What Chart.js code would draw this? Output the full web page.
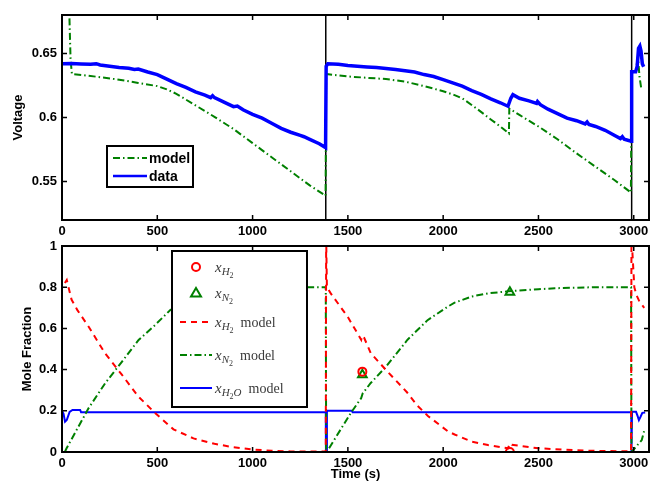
<!DOCTYPE html>
<html>
<head>
<meta charset="utf-8">
<title>Voltage and mole fraction</title>
<script src="https://cdn.jsdelivr.net/npm/chart.js@4.4.0/dist/chart.umd.min.js"></script>
<style>
  body { margin: 0; background: #fff; overflow: hidden; }
  #wrap { position: relative; width: 651px; height: 484px; }
  #chart_volt { position: absolute; left: 0; top: 0; }
  #chart_frac { position: absolute; left: 0; top: 240px; }
</style>
</head>
<body>
<div id="wrap">
  <canvas id="chart_volt" width="651" height="240"></canvas>
  <canvas id="chart_frac" width="651" height="244"></canvas>
</div>
<script>
// tick values
var xTicks = [0, 500, 1000, 1500, 2000, 2500, 3000];
var voltTicks = [0.55, 0.6, 0.65];
var fracTicks = [0, 0.2, 0.4, 0.6, 0.8, 1];

// top panel: measured cell voltage
var tData = [0, 50, 100, 150, 180, 200, 250, 300, 350, 380, 400, 450, 500, 550, 600, 650, 700, 750, 780, 790, 800,
  850, 900, 920, 950, 1000, 1050, 1100, 1150, 1200, 1250, 1270, 1300, 1350, 1383,
  1386, 1395, 1450, 1500, 1550, 1600, 1650, 1700, 1750, 1800, 1850, 1900, 1950, 2000, 2050, 2100, 2150, 2200,
  2250, 2300, 2340, 2355, 2366, 2400, 2450, 2490, 2495, 2510, 2550, 2600, 2650, 2700, 2745, 2755, 2765, 2800,
  2850, 2900, 2930, 2940, 2950, 2986,
  2989, 3010, 3018, 3025, 3032, 3038, 3045, 3052];
var vData = [0.6420, 0.6422, 0.6418, 0.6415, 0.6420, 0.6410, 0.6400, 0.6390, 0.6385, 0.6375, 0.6378, 0.6355, 0.6335,
  0.6300, 0.6265, 0.6235, 0.6200, 0.6175, 0.6155, 0.6170, 0.6155,
  0.6120, 0.6085, 0.6090, 0.6060, 0.6025, 0.5995, 0.5955, 0.5915, 0.5885, 0.5860, 0.5850, 0.5830, 0.5795, 0.5765,
  0.6400, 0.6420, 0.6415, 0.6405, 0.6400, 0.6395, 0.6390, 0.6383, 0.6375, 0.6365, 0.6355, 0.6335, 0.6320, 0.6295,
  0.6270, 0.6245, 0.6210, 0.6180, 0.6145, 0.6115, 0.6088, 0.6150, 0.6178, 0.6150, 0.6130, 0.6110, 0.6125, 0.6100,
  0.6065, 0.6030, 0.5995, 0.5975, 0.5950, 0.5965, 0.5945, 0.5930,
  0.5900, 0.5860, 0.5835, 0.5850, 0.5830, 0.5815,
  0.6357, 0.6357, 0.6400, 0.6540, 0.6557, 0.6520, 0.6420, 0.6396];

// top panel: model voltage
var tModel = [35, 45, 52, 200, 300, 400, 500, 550, 600, 650, 700, 750, 800, 900, 1000, 1100, 1200, 1300, 1383,
  1386, 1500, 1600, 1700, 1800, 1900, 2000, 2060, 2100, 2180, 2250, 2300, 2345,
  2347, 2400, 2500, 2600, 2700, 2800, 2900, 2985,
  2989, 3010, 3022, 3030, 3040];
var vModel = [0.700, 0.645, 0.634, 0.6315, 0.6295, 0.627, 0.6245, 0.622, 0.6185, 0.614, 0.6095, 0.605, 0.6005,
  0.591, 0.580, 0.569, 0.558, 0.547, 0.539,
  0.634, 0.632, 0.631, 0.630, 0.628, 0.6245, 0.6205, 0.6175, 0.615, 0.6065, 0.5985, 0.593, 0.5875,
  0.607, 0.602, 0.593, 0.583, 0.572, 0.5615, 0.551, 0.5415,
  0.6357, 0.6357, 0.648, 0.632, 0.622];

// times when the feed was switched (black lines)
var tSwitch = [1384, 2989];

// bottom panel: model mole fractions
var tH2m = [15, 25, 50, 80, 140, 225, 315, 400, 490, 585, 690, 800, 900, 1000, 1100, 1200, 1384,
  1386, 1390, 1410, 1500, 1570, 1575, 1585, 1620, 1700, 1810, 1865, 1920, 2025, 2060, 2150, 2235, 2340,
  2350, 2360, 2500, 2760, 2986,
  2988, 3003, 3015, 3030, 3055];
var xH2m = [0.82, 0.835, 0.74, 0.69, 0.608, 0.48, 0.374, 0.27, 0.188, 0.11, 0.066, 0.04, 0.023, 0.012, 0.006, 0.003, 0.002,
  1.05, 0.80, 0.77, 0.655, 0.545, 0.565, 0.555, 0.48, 0.398, 0.29, 0.225, 0.175, 0.10, 0.085, 0.05, 0.034, 0.018,
  0.042, 0.035, 0.018, 0.006, 0.003,
  1.05, 0.80, 0.76, 0.73, 0.70];

var tN2m = [15, 24, 139, 226, 314, 402, 489, 568, 650, 750, 850, 1000, 1200, 1384,
  1386, 1389, 1516, 1570, 1578, 1620, 1700, 1813, 1865, 1918, 2023, 2060, 2150, 2234, 2340, 2500, 2586, 2800, 2986,
  2988, 3042, 3056];
var xN2m = [0, 0.018, 0.212, 0.333, 0.438, 0.544, 0.617, 0.689, 0.73, 0.77, 0.78, 0.79, 0.80, 0.80,
  0, 0, 0.19, 0.262, 0.285, 0.335, 0.414, 0.545, 0.592, 0.64, 0.705, 0.725, 0.755, 0.77, 0.78, 0.79, 0.795, 0.80, 0.80,
  0, 0.058, 0.107];

var tH2Om = [0, 8, 16, 25, 40, 55, 95, 100, 1384, 1385, 1388, 1390, 1520, 1525, 2987, 2988, 2991,
  3012, 3020, 3027, 3035, 3045, 3060];
var xH2Om = [0.2, 0.185, 0.147, 0.155, 0.195, 0.204, 0.204, 0.193, 0.193, 0, 0, 0.2, 0.2, 0.193, 0.193, 0, 0.195,
  0.195, 0.175, 0.155, 0.17, 0.19, 0.192];

// bottom panel: measured mole fractions
var tH2pts = [1576, 2350];
var xH2pts = [0.39, 0.0];
var tN2pts = [1576, 2350];
var xN2pts = [0.375, 0.775];

var RED = '#ff0000', GREEN = '#008000', BLUE = '#0000ff';
var DASHDOT = [7, 3, 1.5, 3];
var DASH = [6, 5];

function pts(xs, ys) {
  return xs.map(function(x, i) { return {x: x, y: ys[i]}; });
}

Chart.defaults.font.family = '"Liberation Sans", Arial, sans-serif';
Chart.defaults.font.size = 13;
Chart.defaults.font.weight = 'bold';
Chart.defaults.color = '#000';

// MATLAB style box with inward ticks on all four sides
var tickMarks = {
  id: 'tickMarks',
  afterDatasetsDraw: function(chart) {
    var ctx = chart.ctx, a = chart.chartArea;
    var xs = chart.scales.x, ys = chart.scales.y;
    ctx.save();
    ctx.strokeStyle = '#000';
    ctx.lineWidth = 1.5;
    ctx.beginPath();
    xs.ticks.forEach(function(t) {
      var px = xs.getPixelForValue(t.value);
      ctx.moveTo(px, a.bottom); ctx.lineTo(px, a.bottom - 5);
      ctx.moveTo(px, a.top); ctx.lineTo(px, a.top + 5);
    });
    ys.ticks.forEach(function(t) {
      var py = ys.getPixelForValue(t.value);
      ctx.moveTo(a.left, py); ctx.lineTo(a.left + 5, py);
      ctx.moveTo(a.right, py); ctx.lineTo(a.right - 5, py);
    });
    ctx.stroke();
    ctx.lineWidth = 2;
    ctx.strokeRect(a.left, a.top, a.right - a.left, a.bottom - a.top);
    ctx.restore();
  }
};

var FONTS = {
  i: ['italic 15px "Liberation Serif", serif', 0],
  s: ['italic 11px "Liberation Serif", serif', 3],
  n: ['8px "Liberation Serif", serif', 6],
  r: ['14px "Liberation Serif", serif', 0],
  b: ['bold 14px "Liberation Sans", Arial, sans-serif', 0]
};

function drawMarker(ctx, style, color, x, y) {
  ctx.save();
  ctx.strokeStyle = color;
  ctx.lineWidth = 2;
  ctx.setLineDash([]);
  ctx.beginPath();
  if (style === 'circle') {
    ctx.arc(x, y, 4, 0, Math.PI * 2);
  } else {
    ctx.moveTo(x, y - 5); ctx.lineTo(x + 5, y + 3.5); ctx.lineTo(x - 5, y + 3.5); ctx.closePath();
  }
  ctx.stroke();
  ctx.restore();
}

// legend drawn inside the axes, like the original
var boxLegend = {
  id: 'boxLegend',
  afterDraw: function(chart, args, opts) {
    if (!opts || !opts.rows) return;
    var ctx = chart.ctx;
    ctx.save();
    ctx.fillStyle = '#fff';
    ctx.fillRect(opts.x, opts.y, opts.w, opts.h);
    ctx.lineWidth = 2;
    ctx.strokeStyle = '#000';
    ctx.strokeRect(opts.x, opts.y, opts.w, opts.h);
    opts.rows.forEach(function(r) {
      if (r.marker) {
        drawMarker(ctx, r.marker, r.color, (opts.x0 + opts.x1) / 2, r.y);
      } else {
        ctx.save();
        ctx.strokeStyle = r.color;
        ctx.lineWidth = r.width || 2;
        ctx.setLineDash(r.dash || []);
        ctx.beginPath();
        ctx.moveTo(opts.x0, r.y); ctx.lineTo(opts.x1, r.y);
        ctx.stroke();
        ctx.restore();
      }
      var tx = opts.tx;
      ctx.fillStyle = opts.textColor || '#000';
      ctx.textBaseline = 'alphabetic';
      ctx.textAlign = 'left';
      r.label.forEach(function(seg) {
        var f = FONTS[seg[1]];
        ctx.font = f[0];
        ctx.fillText(seg[0], tx, r.y + 5 + f[1]);
        tx += ctx.measureText(seg[0]).width;
      });
    });
    ctx.restore();
  }
};

function axisOpts(min, max, vals, fmt) {
  return {
    type: 'linear', min: min, max: max,
    grid: {display: false, drawTicks: false},
    border: {display: false},
    afterBuildTicks: function(scale) { scale.ticks = vals.map(function(v) { return {value: v}; }); },
    ticks: {padding: 5, callback: fmt || function(v) { return String(v); }}
  };
}

// ---- top: voltage ----
var xTop = axisOpts(0, 3080, xTicks);
xTop.ticks.padding = 4;
xTop.afterFit = function(s) { s.height = 20; s.paddingLeft = 0; s.paddingRight = 0; };
var yTop = axisOpts(0.52, 0.68, voltTicks);
yTop.title = {display: true, text: 'Voltage', padding: {top: 11, bottom: 0}};
yTop.afterFit = function(s) { s.width = 62; s.paddingTop = 0; s.paddingBottom = 0; };

var switchSets = tSwitch.map(function(t) {
  return {data: pts([t, t], [0.52, 0.68]), showLine: true, borderColor: '#000', borderWidth: 1.5,
          pointRadius: 0, order: 3};
});

new Chart(document.getElementById('chart_volt').getContext('2d'), {
  type: 'scatter',
  data: {datasets: [
    {label: 'data', data: pts(tData, vData), showLine: true, borderColor: BLUE, borderWidth: 3.5,
     pointRadius: 0, order: 1},
    {label: 'model', data: pts(tModel, vModel), showLine: true, borderColor: GREEN, borderWidth: 2,
     borderDash: DASHDOT, pointRadius: 0, order: 2}
  ].concat(switchSets)},
  options: {
    responsive: false, animation: false,
    layout: {autoPadding: false, padding: {top: 15, right: 2, left: 0, bottom: 0}},
    scales: {x: xTop, y: yTop},
    plugins: {
      legend: {display: false}, tooltip: {enabled: false},
      boxLegend: {x: 107, y: 146, w: 86, h: 41, x0: 113, x1: 147, tx: 149, rows: [
        {y: 158, color: GREEN, dash: DASHDOT, label: [['model', 'b']]},
        {y: 176, color: BLUE, width: 2.5, label: [['data', 'b']]}
      ]}
    }
  },
  plugins: [tickMarks, boxLegend]
});

// ---- bottom: mole fraction ----
var xBot = axisOpts(0, 3080, xTicks);
xBot.ticks.padding = 4;
xBot.title = {display: true, text: 'Time (s)', padding: {top: 0, bottom: 2}};
xBot.afterFit = function(s) { s.height = 32; s.paddingLeft = 0; s.paddingRight = 0; };
var yBot = axisOpts(0, 1, fracTicks);
yBot.title = {display: true, text: 'Mole Fraction', padding: {top: 20, bottom: 0}};
yBot.afterFit = function(s) { s.width = 62; s.paddingTop = 0; s.paddingBottom = 0; };

new Chart(document.getElementById('chart_frac').getContext('2d'), {
  type: 'scatter',
  data: {datasets: [
    {label: 'xH2', data: pts(tH2pts, xH2pts), pointStyle: 'circle', pointRadius: 4, borderWidth: 2,
     borderColor: RED, backgroundColor: 'rgba(0,0,0,0)', order: 0},
    {label: 'xN2', data: pts(tN2pts, xN2pts), pointStyle: 'triangle', pointRadius: 5, borderWidth: 2,
     borderColor: GREEN, backgroundColor: 'rgba(0,0,0,0)', order: 0},
    {label: 'xH2 model', data: pts(tH2m, xH2m), showLine: true, borderColor: RED, borderWidth: 2,
     borderDash: DASH, pointRadius: 0, order: 1},
    {label: 'xN2 model', data: pts(tN2m, xN2m), showLine: true, borderColor: GREEN, borderWidth: 2,
     borderDash: DASHDOT, pointRadius: 0, order: 2},
    {label: 'xH2O model', data: pts(tH2Om, xH2Om), showLine: true, borderColor: BLUE, borderWidth: 2,
     pointRadius: 0, order: 3}
  ]},
  options: {
    responsive: false, animation: false,
    // autoPadding would shrink the area to fit the marker radius
    layout: {autoPadding: false, padding: {top: 6, right: 2, left: 0, bottom: 0}},
    scales: {x: xBot, y: yBot},
    plugins: {
      legend: {display: false}, tooltip: {enabled: false},
      boxLegend: {x: 172, y: 11, w: 135, h: 156, x0: 180, x1: 212, tx: 215, textColor: '#3a3a3a', rows: [
        {y: 27, marker: 'circle', color: RED, label: [['x', 'i'], ['H', 's'], ['2', 'n']]},
        {y: 53, marker: 'triangle', color: GREEN, label: [['x', 'i'], ['N', 's'], ['2', 'n']]},
        {y: 82, color: RED, dash: DASH, label: [['x', 'i'], ['H', 's'], ['2', 'n'], ['  model', 'r']]},
        {y: 115, color: GREEN, dash: DASHDOT, label: [['x', 'i'], ['N', 's'], ['2', 'n'], ['  model', 'r']]},
        {y: 148, color: BLUE, label: [['x', 'i'], ['H', 's'], ['2', 'n'], ['O', 's'], ['  model', 'r']]}
      ]}
    }
  },
  plugins: [tickMarks, boxLegend]
});
</script>
</body>
</html>
